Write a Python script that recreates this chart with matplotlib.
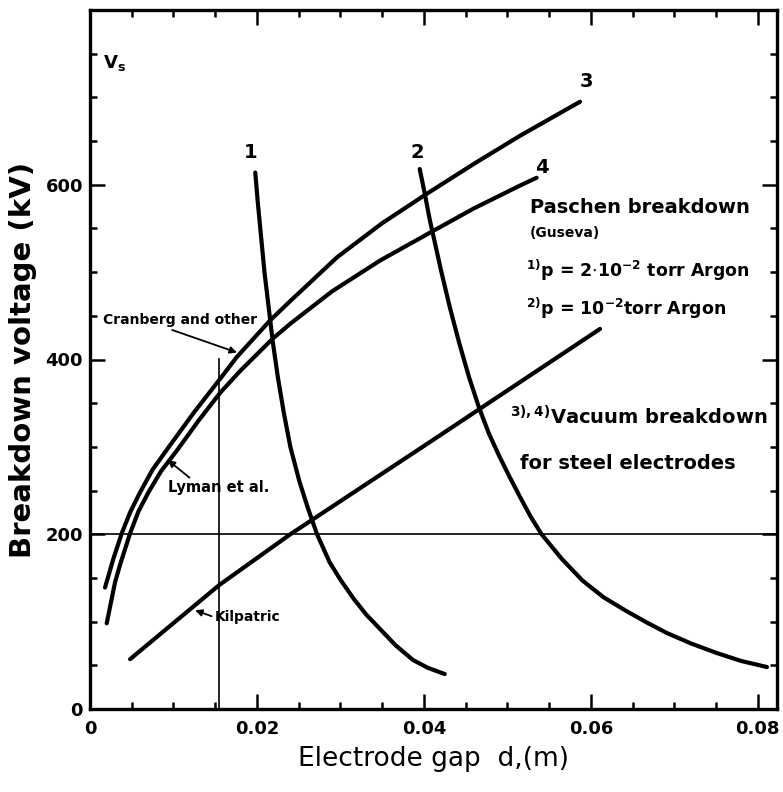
import matplotlib
matplotlib.use("Agg")
import matplotlib.pyplot as plt
from matplotlib.ticker import MultipleLocator

# ---- data ----
c1_x = [0.0198, 0.0201, 0.0205, 0.0209, 0.0214, 0.0219, 0.0225, 0.0232, 0.0240, 0.0251, 0.0261,
        0.0272, 0.0287, 0.0300, 0.0316, 0.0331, 0.0347, 0.0366, 0.0387, 0.0405, 0.0425]
c1_y = [614, 580, 540, 500, 460, 420, 380, 340, 300, 260, 230, 200, 168, 148, 126, 108, 92, 73, 56, 47, 40]

c2_x = [0.0395, 0.0401, 0.0407, 0.0414, 0.0421, 0.0431, 0.0442, 0.0454, 0.0466, 0.0478, 0.0490, 0.0503,
        0.0515, 0.0528, 0.0541, 0.0565, 0.0590, 0.0615, 0.0641, 0.0667, 0.0691, 0.0720, 0.0751, 0.0780, 0.0811]
c2_y = [618, 590, 560, 530, 500, 460, 420, 380, 345, 315, 290, 265, 243, 220, 200, 172, 147, 128, 113, 99,
        87, 75, 64, 55, 48]

c3_x = [0.0018, 0.0028, 0.0038, 0.0048, 0.0060, 0.0075, 0.0096, 0.0125, 0.0156, 0.0176, 0.0216, 0.0240,
        0.0296, 0.0350, 0.0404, 0.0460, 0.0515, 0.0587]
c3_y = [139, 172, 201, 225, 248, 274, 302, 340, 378, 403, 445, 467, 517, 556, 590, 624, 656, 695]

c4_x = [0.0020, 0.0030, 0.0036, 0.0048, 0.0058, 0.0070, 0.0085, 0.0105, 0.0130, 0.0156, 0.0180, 0.0219,
        0.0240, 0.0290, 0.0347, 0.0407, 0.0460, 0.0515, 0.0535]
c4_y = [98, 145, 165, 201, 226, 248, 272, 297, 330, 362, 387, 424, 441, 478, 513, 545, 573, 599, 608]

kil_x = [0.0048, 0.0155, 0.0240, 0.0400, 0.0611]
kil_y = [57, 142, 200, 301, 435]

h_level = 200
v_pos = 0.0155
v_top = 401

x_ticks = [0, 0.02, 0.04, 0.06, 0.08]
x_tick_labels = ["0", "0.02", "0.04", "0.06", "0.08"]
y_ticks = [0, 200, 400, 600]
y_tick_labels = ["0", "200", "400", "600"]

fig = plt.figure(figsize=(7.83, 7.92), dpi=100)
ax = fig.add_axes([90/783, (792-709)/792, (777-90)/783, (709-10)/792])

lw = 3.0
for xs, ys in [(c1_x, c1_y), (c2_x, c2_y), (c3_x, c3_y), (c4_x, c4_y), (kil_x, kil_y)]:
    ax.plot(xs, ys, color="black", lw=lw, solid_capstyle="round", solid_joinstyle="round")

ax.axhline(h_level, color="black", lw=1.2)
ax.plot([v_pos, v_pos], [0, v_top], color="black", lw=1.2)

ax.set_xlim(0, 0.0823)
ax.set_ylim(0, 800)
ax.set_xticks(x_ticks)
ax.set_xticklabels(x_tick_labels)
ax.set_yticks(y_ticks)
ax.set_yticklabels(y_tick_labels)
ax.xaxis.set_minor_locator(MultipleLocator(0.005))
ax.yaxis.set_minor_locator(MultipleLocator(50))
ax.tick_params(which="both", direction="in", top=True, right=True, width=1.8)
ax.tick_params(which="major", length=11, labelsize=13)
ax.tick_params(axis="x", which="major", pad=8)
ax.tick_params(axis="y", which="major", pad=5)
ax.tick_params(which="minor", length=5)
for lab in ax.get_xticklabels() + ax.get_yticklabels():
    lab.set_fontweight("bold")
for s in ax.spines.values():
    s.set_linewidth(2.4)

ax.set_xlabel("Electrode gap  d,(m)", fontsize=19, labelpad=6)
ax.set_ylabel("Breakdown voltage (kV)", fontsize=21, fontweight="bold", labelpad=6)

# curve labels
ax.text(0.0193, 637, "1", fontsize=14, fontweight="bold", ha="center", va="center")
ax.text(0.0392, 637, "2", fontsize=14, fontweight="bold", ha="center", va="center")
ax.text(0.0595, 718, "3", fontsize=14, fontweight="bold", ha="center", va="center")
ax.text(0.0541, 620, "4", fontsize=14, fontweight="bold", ha="center", va="center")
ax.text(0.0015, 739, r"V$_\mathbf{s}$", fontsize=13, fontweight="bold", ha="left", va="center")

# right-hand texts
ax.text(0.0527, 574, "Paschen breakdown", fontsize=14, fontweight="bold", va="center")
ax.text(0.0527, 545, "(Guseva)", fontsize=10, fontweight="bold", va="center")
ax.text(0.0522, 502, r"$^{\mathbf{1)}}$p = 2$\cdot$10$^{\mathbf{-2}}$ torr Argon", fontsize=12.5,
        fontweight="bold", va="center")
ax.text(0.0522, 459, r"$^{\mathbf{2)}}$p = 10$^{\mathbf{-2}}$torr Argon", fontsize=12.5,
        fontweight="bold", va="center")
ax.text(0.0503, 334, r"$^{\mathbf{3),4)}}$Vacuum breakdown", fontsize=14, fontweight="bold", va="center")
ax.text(0.0515, 281, "for steel electrodes", fontsize=14, fontweight="bold", va="center")

# annotations
ax.annotate("Cranberg and other", xy=(0.0176, 408), xytext=(0.0015, 445), fontsize=10, fontweight="bold",
            va="center", arrowprops=dict(arrowstyle="-|>", color="black", lw=1.3, shrinkA=0, shrinkB=0,
                                         relpos=(0.4, 0.0)))
ax.annotate("Lyman et al.", xy=(0.0093, 285), xytext=(0.0093, 253), fontsize=10.5, fontweight="bold",
            va="center", arrowprops=dict(arrowstyle="-|>", color="black", lw=1.3, shrinkA=0, shrinkB=0,
                                         relpos=(0.25, 1.0)))
ax.annotate("Kilpatric", xy=(0.0126, 113), xytext=(0.0149, 105), fontsize=10, fontweight="bold",
            va="center", arrowprops=dict(arrowstyle="-|>", color="black", lw=1.3, shrinkA=0, shrinkB=0,
                                         relpos=(0.0, 0.5)))

fig.savefig("out.png", dpi=100)
